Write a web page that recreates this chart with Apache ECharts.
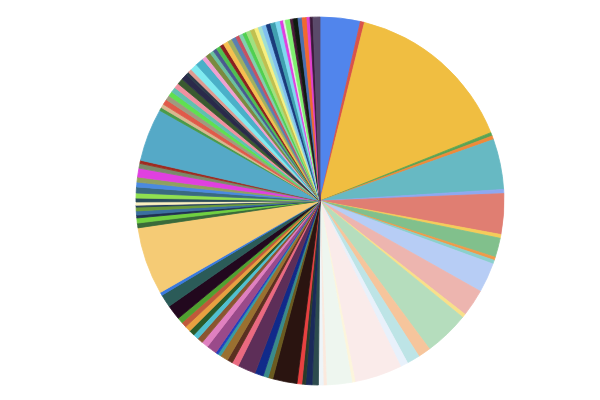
<!DOCTYPE html>
<html>
<head>
<meta charset="utf-8">
<script src="https://cdn.jsdelivr.net/npm/echarts@6/dist/echarts.min.js"></script>
<style>html,body{margin:0;padding:0;background:#fff;}#c{width:600px;height:400px;}</style>
</head>
<body>
<div id="c"></div>
<script>
// slice values (clockwise from 12 o'clock)
const sliceValues = [
  12.7, 1.3, 54.2, 1.1, 1.2, 15.9, 1.3, 12.8, 1.2, 6.1,
  1.0, 1.2, 9.4, 8.6, 1.2, 14.3, 4.0, 4.1, 2.4, 15.0,
  1.0, 8.0, 1.0, 1.5, 2.0, 2.0, 1.2, 1.5, 7.7, 1.5,
  1.6, 2.7, 5.7, 2.1, 1.7, 2.5, 1.0, 0.8, 3.2, 2.1,
  1.8, 1.7, 1.8, 1.8, 1.7, 1.8, 4.7, 4.1, 1.0, 21.4,
  1.5, 1.6, 0.9, 1.3, 1.2, 0.6, 1.0, 1.2, 1.6, 1.9,
  1.5, 1.6, 2.8, 1.5, 1.0, 16.7, 1.0, 1.2, 1.7, 1.5,
  1.5, 1.6, 1.6, 1.9, 1.9, 1.0, 1.2, 2.2, 2.6, 1.4,
  1.6, 1.2, 1.2, 1.4, 1.2, 1.6, 1.4, 1.4, 1.2, 1.2,
  1.2, 1.4, 1.4, 1.2, 1.2, 1.4, 1.4, 1.6, 1.5, 1.0,
  0.6, 1.6, 0.9, 1.5, 1.3, 1.5, 1.0, 0.9, 2.2
];
// slice colours, same order
const sliceColors = [
  '#5185ec', '#d9534a', '#f0be41', '#5aa454', '#ef8a3a', '#67b9c3', '#8fa8f0', '#e07e72', '#f5cc5a', '#81c08c',
  '#ef9a4a', '#8ad0cc', '#b7cdf5', '#edb5af', '#f8e08a', '#b5ddbd', '#f6c59c', '#bde4e6', '#e8f1fb', '#faebea',
  '#fcf5dc', '#eef6ef', '#fbe9dd', '#eef4f8', '#2c4b4e', '#1a2a5a', '#2a3a2a', '#e84040', '#2a1410', '#6b5a20',
  '#3a8a8a', '#102a8a', '#5d2e58', '#ea6a80', '#5a3020', '#9a7030', '#3a9aa0', '#2040c0', '#9a4a8a', '#e080c0',
  '#8a5530', '#50c0d0', '#2a5a2a', '#e8a040', '#c05a3a', '#50a030', '#22081e', '#2b5b58', '#3a7ae0', '#f5cb75',
  '#3a6a3a', '#70d040', '#203050', '#3a70a0', '#6a9a3a', '#203a5a', '#fbf0c0', '#2a4a5a', '#90e050', '#3a6a80',
  '#4a8ae0', '#90a060', '#e040e0', '#7a8a6a', '#a02a20', '#55a9c7', '#4a9a4a', '#d8b890', '#e05a4a', '#a09a80',
  '#60e050', '#60c0b0', '#f090a0', '#3a5a30', '#2a2a4a', '#2a3a4a', '#e09a90', '#80eaf0', '#4ab0c8', '#f0a0d0',
  '#7a8a40', '#6ac0a0', '#4a5a90', '#50c050', '#8a2020', '#f5c050', '#a0b060', '#5a80b0', '#c85060', '#80d0b0',
  '#50d050', '#a0e080', '#c0c050', '#f8f080', '#a0e0d0', '#80c0f0', '#1a3a7a', '#40a0b0', '#80d8f0', '#e040e0',
  '#e0f0e0', '#80f070', '#4a1a3a', '#101a10', '#4a70b0', '#f06a30', '#e040d0', '#3a1a3a', '#5a4a6a'
];

const chart = echarts.init(document.getElementById('c'), null, {renderer: 'canvas'});
chart.setOption({
  animation: false,
  backgroundColor: '#ffffff',
  color: sliceColors,
  series: [{
    type: 'pie',
    center: [320, 201],
    radius: [0, 184],
    startAngle: 90,
    clockwise: true,
    avoidLabelOverlap: false,
    silent: true,
    label: {show: false},
    labelLine: {show: false},
    emphasis: {disabled: true},
    data: sliceValues.map((v, i) => ({
      value: v,
      name: 'S' + (i + 1),
      itemStyle: {color: sliceColors[i], borderColor: sliceColors[i], borderWidth: 0.8}
    }))
  }]
});
</script>
</body>
</html>
